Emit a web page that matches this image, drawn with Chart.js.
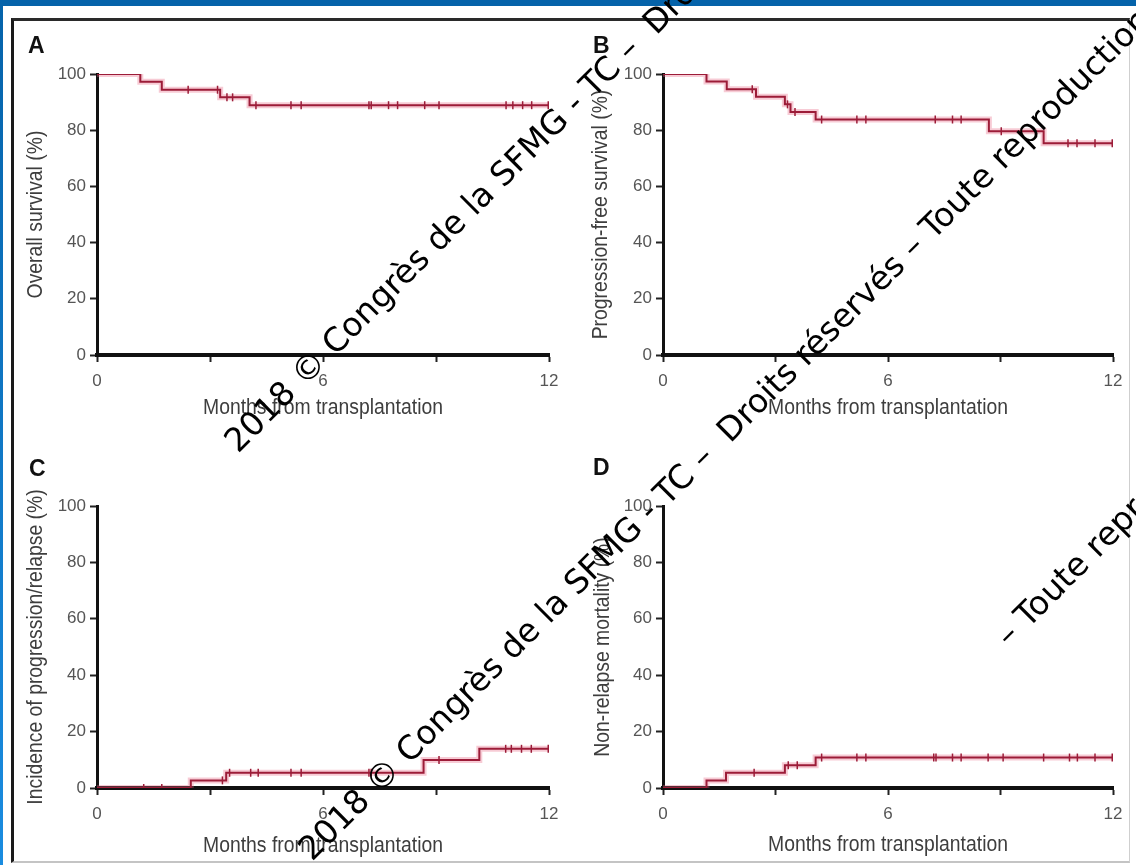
<!DOCTYPE html>
<html lang="fr">
<head>
<meta charset="utf-8">
<title>Survie après greffe</title>
<script src="https://cdn.jsdelivr.net/npm/chart.js@4.4.1/dist/chart.umd.min.js"></script>
<style>
  html, body { margin: 0; padding: 0; }
  body { width: 1136px; height: 865px; position: relative; overflow: hidden; background: #fff; }
  .band-top { position: absolute; left: 0; top: 0; width: 1136px; height: 6px; background: #0563aa; }
  .band-left { position: absolute; left: 0; top: 0; width: 3px; height: 865px; background: linear-gradient(#0563aa, #1a8ce0); }
  .frame { position: absolute; left: 11px; top: 18px; width: 1119px; height: 845px; box-sizing: border-box;
           border-left: 3px solid #1a1a1a; border-top: 3px solid #2a2a2a; border-right: 1px solid #cfcfcf; border-bottom: 2px solid #c4c4c4; }
  canvas { position: absolute; }
  #overlay { left: 0; top: 0; pointer-events: none; }
</style>
</head>
<body>
<div class="band-top"></div>
<div class="band-left"></div>
<div class="frame"></div>
<canvas id="chartA" width="556" height="414" style="left:14px;top:21px"></canvas>
<canvas id="chartB" width="556" height="414" style="left:580px;top:21px"></canvas>
<canvas id="chartC" width="556" height="428" style="left:14px;top:436px"></canvas>
<canvas id="chartD" width="556" height="428" style="left:580px;top:436px"></canvas>
<canvas id="overlay" width="1136" height="865"></canvas>
<script>
// months since transplant where each curve steps, and the value after the step
const osTimes = [0, 1.15, 1.72, 3.27, 4.05];
const osValues = [100, 97.2, 94.4, 91.7, 88.9];
const osCensored = [2.42, 3.2, 3.45, 3.6, 4.22, 5.15, 5.42, 7.22, 7.28, 7.74, 7.98, 8.7, 9.08, 10.86, 11.04, 11.3, 11.54, 11.98];

const pfsTimes = [0, 1.16, 1.70, 2.48, 3.25, 3.40, 4.07, 8.69, 10.15];
const pfsValues = [100, 97.3, 94.6, 91.9, 89.2, 86.5, 83.8, 79.6, 75.4];
const pfsCensored = [2.38, 3.32, 3.52, 4.23, 5.17, 5.41, 7.26, 7.72, 7.95, 9.02, 10.8, 11.04, 11.52, 11.98];

const relapseTimes = [0, 2.49, 3.43, 8.67, 10.15];
const relapseValues = [0, 2.7, 5.4, 9.9, 13.9];
const relapseCensored = [1.24, 1.72, 3.33, 3.52, 4.08, 4.28, 5.15, 5.42, 7.22, 7.28, 9.08, 10.85, 11.0, 11.27, 11.53, 11.98];

const nrmTimes = [0, 1.16, 1.68, 3.25, 4.07];
const nrmValues = [0, 2.7, 5.4, 8.1, 10.8];
const nrmCensored = [2.43, 3.34, 3.58, 4.23, 5.17, 5.41, 7.22, 7.28, 7.72, 7.95, 8.67, 9.07, 10.15, 10.84, 11.05, 11.52, 11.98];

const xTicks = [0, 3, 6, 9, 12];
const xLabels = ['0', '', '6', '', '12'];
const yTicks = [0, 20, 40, 60, 80, 100];
const followUp = 12;

const LINE = '#9c1c38';
const HALO = 'rgba(232, 96, 128, 0.33)';
const TICK_FONT = { family: '"Liberation Sans", Arial, sans-serif', size: 17 };
const TEXT = '#555';
const TITLE_COLOR = '#3e3e3e';

function valueAt(times, values, t) {
  let v = values[0];
  for (let i = 0; i < times.length; i++) if (times[i] <= t) v = values[i];
  return v;
}

function stepCurve(times, values) {
  const pts = times.map((t, i) => ({ x: t, y: values[i] }));
  pts.push({ x: followUp, y: values[values.length - 1] });
  return pts;
}

function censorMarks(times, values, censored) {
  return censored.map(t => ({ x: t, y: valueAt(times, values, t) }));
}

// axis titles in a narrow face: regular glyphs squeezed horizontally
const narrowTitles = {
  id: 'narrowTitles',
  afterDraw(chart, args, opts) {
    const { ctx, chartArea } = chart;
    ctx.save();
    ctx.fillStyle = TITLE_COLOR;
    ctx.font = '22px "Liberation Sans", Arial, sans-serif';
    ctx.textAlign = 'center';
    ctx.textBaseline = 'middle';
    ctx.save();
    ctx.translate((chartArea.left + chartArea.right) / 2, opts.xTitleY);
    ctx.scale(0.88, 1);
    ctx.fillText(opts.xTitle, 0, 0);
    ctx.restore();
    ctx.translate(opts.yTitleX, (chartArea.top + chartArea.bottom) / 2);
    ctx.rotate(-Math.PI / 2);
    ctx.scale(0.88, 1);
    ctx.fillText(opts.yTitle, 0, 0);
    ctx.restore();
  }
};

// box = canvas position on the page, area = plot rectangle on the page
function drawPanel(id, box, area, yTitle, times, values, censored, yTitleX, xTitleY) {
  const curve = stepCurve(times, values);
  new Chart(document.getElementById(id), {
    type: 'line',
    data: {
      datasets: [
        { data: censorMarks(times, values, censored), showLine: false, pointStyle: 'line', rotation: 90,
          pointRadius: 4, pointBorderWidth: 1.5, pointBorderColor: LINE, borderColor: LINE },
        { data: curve, stepped: 'before', borderColor: LINE, borderWidth: 2, pointRadius: 0 },
        { data: curve, stepped: 'before', borderColor: HALO, borderWidth: 6, pointRadius: 0 }
      ]
    },
    plugins: [narrowTitles],
    options: {
      responsive: false,
      animation: false,
      events: [],
      layout: { padding: { left: 0, top: area.t - box.t, right: box.l + box.w - area.r, bottom: 0 } },
      plugins: {
        legend: { display: false },
        tooltip: { enabled: false },
        narrowTitles: { xTitle: 'Months from transplantation', xTitleY: xTitleY - box.t, yTitle, yTitleX: yTitleX - box.l }
      },
      scales: {
        x: {
          type: 'linear', min: 0, max: 12,
          afterBuildTicks: s => { s.ticks = xTicks.map(v => ({ value: v })); },
          ticks: { callback: (v, i) => xLabels[i], font: TICK_FONT, color: TEXT, padding: 9, maxRotation: 0, autoSkip: false },
          grid: { drawOnChartArea: false, tickLength: 7, tickWidth: 2, tickColor: '#222' },
          border: { color: '#111', width: 4 },
          afterFit: s => { s.height = box.t + box.h - area.b; s.paddingLeft = 0; s.paddingRight = 0; }
        },
        y: {
          min: 0, max: 100,
          afterBuildTicks: s => { s.ticks = yTicks.map(v => ({ value: v })); },
          ticks: { font: TICK_FONT, color: TEXT, padding: 4 },
          grid: { drawOnChartArea: false, tickLength: 7, tickWidth: 2, tickColor: '#222' },
          border: { color: '#111', width: 3 },
          afterFit: s => { s.width = area.l - box.l; s.paddingTop = 0; s.paddingBottom = 0; }
        }
      }
    }
  });
}

drawPanel('chartA', { l: 14, t: 21, w: 556, h: 414 }, { l: 97, t: 74, r: 549, b: 355 },
  'Overall survival (%)', osTimes, osValues, osCensored, 36, 408);
drawPanel('chartB', { l: 580, t: 21, w: 556, h: 414 }, { l: 663, t: 74, r: 1113, b: 355 },
  'Progression-free survival (%)', pfsTimes, pfsValues, pfsCensored, 601, 408);
drawPanel('chartC', { l: 14, t: 436, w: 556, h: 428 }, { l: 97, t: 506, r: 549, b: 788 },
  'Incidence of progression/relapse (%)', relapseTimes, relapseValues, relapseCensored, 36, 846);
drawPanel('chartD', { l: 580, t: 436, w: 556, h: 428 }, { l: 663, t: 506, r: 1113, b: 788 },
  'Non-relapse mortality (%)', nrmTimes, nrmValues, nrmCensored, 603, 845);

// panel letters, then the diagonal copyright stamp on top
const ctx = document.getElementById('overlay').getContext('2d');
ctx.fillStyle = '#111';
ctx.font = 'bold 23px "Liberation Sans", Arial, sans-serif';
ctx.fillText('A', 28, 53);
ctx.fillText('B', 593, 53);
ctx.fillText('C', 29, 476);
ctx.fillText('D', 593, 475);

const stamp = '2018 \u00a9 Congr\u00e8s de la SFMG - TC \u2013  Droits r\u00e9serv\u00e9s \u2013 Toute reproduction';
function stampAt(text, x, y) {
  ctx.save();
  ctx.translate(x, y);
  ctx.rotate(-Math.PI / 4);
  ctx.fillStyle = '#000';
  ctx.font = '33px "DejaVu Sans", sans-serif';
  ctx.fillText(text, 0, 0);
  ctx.restore();
}
stampAt(stamp, 238, 454);
stampAt(stamp, 312, 862);
stampAt('\u2013 Toute reproduction', 1009, 648);
</script>
</body>
</html>
